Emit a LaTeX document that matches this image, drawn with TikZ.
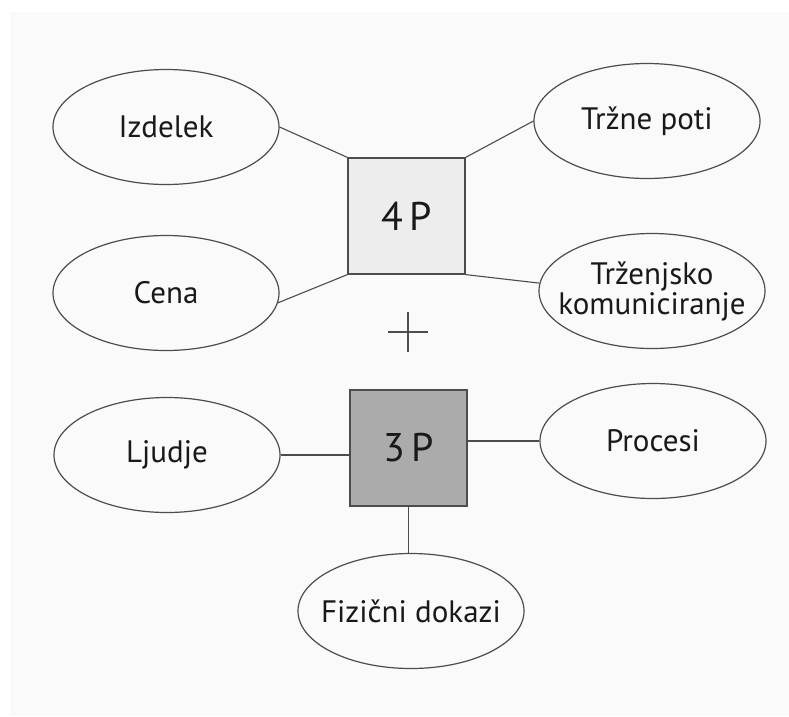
\documentclass[tikz,border=0pt]{standalone}
\usepackage{fontspec}
\setmainfont{PT Sans}
\usetikzlibrary{shapes.geometric}
\begin{document}
\begin{tikzpicture}[x=1pt,y=-1pt,
  oval/.style={ellipse,draw=black!70,line width=1.2pt,minimum width=226pt,minimum height=115pt,inner xsep=-30pt,inner ysep=0pt,align=center,font=\fontsize{31}{34}\selectfont,text=black!90},
  pbox/.style={rectangle,draw=black!70,line width=1.2pt,minimum width=117pt,minimum height=116pt,font=\fontsize{40}{42}\selectfont,text=black!90},
  link/.style={draw=black!70,line width=1.1pt}]
\useasboundingbox (0,0) rectangle (789,716);
\fill[black!2] (10,12) rectangle (789,716);
\node[oval] (izd) at (166,127) {Izdelek};
\node[oval] (trz) at (647,121) {Tržne poti};
\node[oval] (cen) at (166,293) {Cena};
\node[oval] (kom) at (652,291) {Trženjsko\\[-4pt]komuniciranje};
\node[oval] (lju) at (167,455) {Ljudje};
\node[oval] (pro) at (653,441) {Procesi};
\node[oval] (fiz) at (411,611) {Fizični dokazi};
\node[pbox,fill=black!7] (p4) at (406.5,216) {4\,P};
\node[pbox,fill=black!33] (p3) at (408.5,448) {3\,P};
\node (plus) at (408,332) {};
\draw[link] (plus.center) ++(-20,0) -- ++(40,0);
\draw[link] (plus.center) ++(0,-20) -- ++(0,40);
\draw[link] (izd.east) -- (p4.north west);
\draw[link] (trz.west) -- (p4.north east);
\draw[link] (cen.-5) -- (p4.south west);
\draw[link] (kom.176) -- (p4.south east);
\draw[link] (lju.east) -- (lju.east -| p3.west);
\draw[link] (pro.west) -- (pro.west -| p3.east);
\draw[link] (p3.south) -- (p3.south |- fiz.north);
\end{tikzpicture}
\end{document}
